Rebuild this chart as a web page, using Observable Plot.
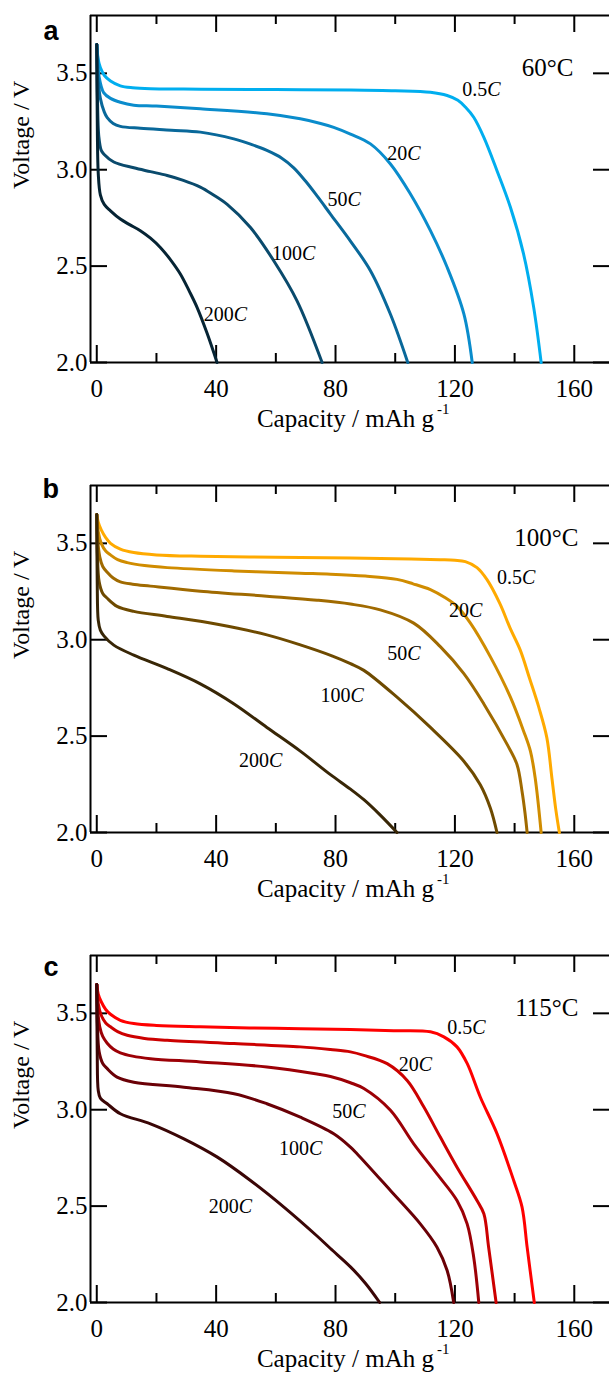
<!DOCTYPE html>
<html><head><meta charset="utf-8">
<script src="https://cdn.jsdelivr.net/npm/d3@7"></script>
<script src="https://cdn.jsdelivr.net/npm/@observablehq/plot@0.6"></script>
<style>
body{margin:0;background:#fff;}
#chart{width:609px;}
#chart svg{display:block;overflow:hidden;}
</style></head><body><div id="chart"></div>
<script>
// ---------- categories & ticks ----------
const RATES = ["0.5", "20", "50", "100", "200"];
const X_MAJOR = [0, 40, 80, 120, 160];
const X_MINOR = [20, 60, 100, 140];
const Y_TICKS = [2.0, 2.5, 3.0, 3.5];
const X_DOMAIN = [-2.1, 171.8];
const Y_DOMAIN = [2.0, 3.8];

// ---------- panel a : 60 °C  [capacity mAh/g, voltage V] ----------
const a_05C = [[0,3.65],[0.5,3.57],[1.2,3.53],[2.5,3.49],[4.6,3.46],[7.9,3.435],[12,3.425],[18,3.42],[35,3.418],[60,3.416],[85,3.414],[100,3.41],[111.8,3.402],[117.4,3.385],[121,3.36],[123.5,3.325],[126.3,3.272],[129.7,3.168],[134.1,2.995],[138.6,2.805],[143,2.563],[146.4,2.286],[148.9,2.0]];
const a_20C = [[0,3.65],[0.4,3.56],[0.8,3.48],[2.3,3.40],[4.6,3.37],[7.9,3.35],[12.4,3.335],[20,3.33],[34.7,3.316],[57,3.29],[68.2,3.264],[75,3.24],[79.4,3.22],[85,3.185],[91.7,3.134],[98.4,3.03],[105.1,2.874],[111.8,2.684],[117.4,2.494],[123,2.252],[125.8,2.0]];
const a_50C = [[0,3.65],[0.3,3.5],[1.2,3.37],[2.5,3.3],[3.5,3.27],[5.5,3.24],[7.9,3.225],[14.6,3.215],[25,3.205],[34.7,3.195],[45.9,3.16],[52,3.13],[57,3.10],[62,3.06],[66,3.01],[70,2.94],[74,2.86],[78.3,2.77],[85,2.63],[91.7,2.476],[98.4,2.25],[104.2,2.0]];
const a_100C = [[0,3.65],[0.2,3.4],[0.7,3.17],[1.5,3.10],[2.4,3.08],[5.7,3.04],[12.4,3.01],[18,2.99],[23.6,2.97],[29,2.945],[34.7,2.91],[39,2.87],[43.7,2.82],[51.5,2.70],[59.3,2.528],[67.1,2.32],[75.5,2.0]];
const a_200C = [[0,3.65],[0.2,3.2],[0.5,2.98],[1.2,2.87],[2.5,2.82],[4.6,2.787],[7.9,2.744],[11,2.715],[14.6,2.684],[18,2.645],[21.3,2.597],[24.6,2.535],[28,2.459],[31,2.37],[33.6,2.286],[37,2.15],[40.3,2.0]];

// ---------- panel b : 100 °C ----------
const b_05C = [[0,3.65],[0.5,3.61],[1.5,3.57],[3,3.53],[4.6,3.50],[7.9,3.47],[12.4,3.452],[20,3.44],[34.7,3.433],[60,3.428],[85,3.424],[100,3.42],[115,3.415],[120,3.412],[123.5,3.405],[127.4,3.374],[130.7,3.313],[135,3.19],[138.5,3.06],[141.9,2.946],[145,2.80],[148.1,2.65],[150.8,2.492],[152.5,2.283],[153.8,2.12],[155,2.0]];
const b_20C = [[0,3.65],[0.5,3.56],[1.5,3.50],[3,3.46],[4.6,3.44],[7,3.415],[10.2,3.40],[16,3.385],[23.6,3.374],[46,3.357],[68,3.345],[78.3,3.34],[90,3.33],[100.6,3.313],[106,3.29],[111.8,3.26],[116.5,3.22],[120.7,3.173],[125.2,3.086],[131.9,2.911],[138.6,2.702],[143,2.527],[145.3,2.422],[146.9,2.283],[148.9,2.0]];
const b_50C = [[0,3.65],[0.3,3.52],[1,3.43],[2,3.38],[3.5,3.35],[5.5,3.32],[7.9,3.30],[12,3.288],[18,3.278],[34.7,3.252],[57,3.226],[73.8,3.205],[85,3.185],[95,3.155],[106.2,3.086],[115.1,2.964],[123,2.824],[129.7,2.667],[137.5,2.457],[140.8,2.353],[142.5,2.213],[143.5,2.1],[144.2,2.0]];
const b_100C = [[0,3.65],[0.2,3.45],[0.8,3.3],[2,3.24],[3.5,3.215],[6.8,3.173],[12.4,3.147],[23.6,3.121],[40.4,3.08],[57,3.025],[68.2,2.973],[79,2.915],[85,2.876],[89.5,2.841],[100.6,2.702],[111.8,2.545],[123,2.37],[128.5,2.248],[131.9,2.126],[134.1,2.0]];
const b_200C = [[0,3.65],[0.15,3.3],[0.5,3.1],[1.2,3.05],[2.4,3.02],[5.7,2.972],[12.4,2.92],[23.6,2.85],[34.7,2.771],[46,2.667],[57,2.545],[68.2,2.422],[78.3,2.30],[85,2.225],[89.5,2.17],[95,2.09],[100.6,2.0]];

// ---------- panel c : 115 °C ----------
const c_05C = [[0,3.65],[0.5,3.60],[1.5,3.56],[3,3.52],[4.6,3.495],[7.9,3.464],[12.4,3.447],[20,3.437],[34.7,3.43],[60,3.422],[85,3.416],[100,3.41],[111.8,3.404],[116.3,3.378],[120.7,3.326],[124.1,3.24],[128.5,3.066],[134.1,2.876],[139.7,2.633],[142.5,2.495],[144.2,2.287],[146.6,2.0]];
const c_20C = [[0,3.65],[0.5,3.55],[1.5,3.49],[3,3.45],[4.6,3.43],[7,3.405],[10.2,3.386],[16,3.37],[23.6,3.36],[46,3.343],[68.2,3.326],[78.3,3.312],[85,3.30],[89.5,3.282],[97.3,3.239],[104,3.152],[109.6,3.014],[115.1,2.858],[120.7,2.702],[127.4,2.529],[129.7,2.46],[131.3,2.287],[133.8,2.0]];
const c_50C = [[0,3.65],[0.3,3.52],[1,3.43],[2,3.38],[3.5,3.345],[5.5,3.315],[7.9,3.295],[12,3.278],[18,3.265],[34.7,3.248],[57,3.222],[73.8,3.185],[78.3,3.172],[85,3.14],[89.5,3.11],[98.4,2.997],[106.2,2.823],[114,2.667],[120.7,2.529],[124.1,2.408],[126.3,2.235],[128,2.0]];
const c_100C = [[0,3.65],[0.2,3.45],[0.8,3.3],[2,3.24],[3.5,3.213],[6.8,3.169],[12.4,3.143],[29.2,3.117],[46,3.083],[57,3.031],[68.2,2.961],[79.4,2.875],[85,2.806],[87.2,2.772],[98.4,2.581],[108.4,2.408],[114,2.287],[117.4,2.166],[119.6,2.0]];
const c_200C = [[0,3.65],[0.15,3.3],[0.5,3.1],[1.2,3.06],[3.5,3.031],[7.9,2.979],[18,2.927],[29.2,2.849],[40.4,2.754],[51.5,2.633],[62.7,2.495],[73.8,2.345],[78.3,2.28],[85,2.185],[90,2.1],[94.8,2.0]];

// ---------- colours ----------
const A_COLORS = ["#00aeef", "#0a8ccc", "#09689a", "#0a4a6c", "#062434"];
const B_COLORS = ["#ffaa00", "#d08c00", "#a06a00", "#6e4a00", "#382606"];
const C_COLORS = ["#ff0000", "#cc0000", "#9c0006", "#6a0006", "#3a0606"];

// ---------- curve label anchors (capacity, voltage) ----------
const A_LABEL_CAP = [130.8, 104.0, 84.0, 68.8, 45.9];
const A_LABEL_V   = [3.416, 3.086, 2.845, 2.567, 2.248];
const B_LABEL_CAP = [142.5, 124.7, 104.0, 85.0, 57.7];
const B_LABEL_V   = [3.321, 3.150, 2.929, 2.710, 2.375];
const C_LABEL_CAP = [125.8, 107.9, 85.6, 71.1, 47.6];
const C_LABEL_V   = [3.425, 3.235, 2.991, 2.800, 2.497];

const PANELS = [
  {letter: "a", temp: "60°C",  colors: A_COLORS, series: [a_05C, a_20C, a_50C, a_100C, a_200C], lcap: A_LABEL_CAP, lv: A_LABEL_V, ldx: -47, ldy: 5,  tdx: -36},
  {letter: "b", temp: "100°C", colors: B_COLORS, series: [b_05C, b_20C, b_50C, b_100C, b_200C], lcap: B_LABEL_CAP, lv: B_LABEL_V, ldx: -48, ldy: -7, tdx: -31},
  {letter: "c", temp: "115°C", colors: C_COLORS, series: [c_05C, c_20C, c_50C, c_100C, c_200C], lcap: C_LABEL_CAP, lv: C_LABEL_V, ldx: -47, ldy: 1,  tdx: -31}
];

const SERIF = "'Liberation Serif', 'Times New Roman', serif";
const SANS = "'Liberation Sans', Arial, sans-serif";
const W = 609, H = 470, MT = 15, MB = 108, ML = 90, MR = 0;
const INNER_H = H - MT - MB, INNER_W = W - ML - MR;
const MAJ = 17, MIN = 9;

for (const p of PANELS) {
  const rows = [];
  p.series.forEach((s, i) => s.forEach(([cap, v]) => rows.push({rate: RATES[i], cap, v})));
  const labels = RATES.map((r, i) => ({rate: r, cap: p.lcap[i], v: p.lv[i]}));
  const chart = Plot.plot({
    width: W, height: H, marginTop: MT, marginBottom: MB, marginLeft: ML, marginRight: MR,
    style: {fontFamily: SERIF, fontSize: "25px", background: "white", color: "black", overflow: "hidden"},
    x: {domain: X_DOMAIN},
    y: {domain: Y_DOMAIN},
    color: {domain: RATES, range: p.colors},
    marks: [
      Plot.axisX({ticks: X_MAJOR, tickSize: 0, tickPadding: 17, tickFormat: d3.format("d"), label: null, fontSize: 25}),
      Plot.axisY({ticks: Y_TICKS, tickSize: 0, tickPadding: 3, tickFormat: d3.format(".1f"), label: null, fontSize: 25}),
      // inward ticks
      Plot.tickX(X_MAJOR, {x: d => d, insetTop: INNER_H - MAJ, stroke: "black", strokeWidth: 2}),
      Plot.tickX(X_MAJOR, {x: d => d, insetBottom: INNER_H - MAJ, stroke: "black", strokeWidth: 2}),
      Plot.tickX(X_MINOR, {x: d => d, insetTop: INNER_H - MIN, stroke: "black", strokeWidth: 2}),
      Plot.tickX(X_MINOR, {x: d => d, insetBottom: INNER_H - MIN, stroke: "black", strokeWidth: 2}),
      Plot.tickY(Y_TICKS, {y: d => d, insetRight: INNER_W - MAJ, stroke: "black", strokeWidth: 2}),
      Plot.tickY(Y_TICKS, {y: d => d, insetLeft: INNER_W - MAJ + 1, stroke: "black", strokeWidth: 2}),
      // frame (left, top, bottom)
      Plot.ruleX([X_DOMAIN[0]], {stroke: "black", strokeWidth: 2}),
      Plot.ruleY([Y_DOMAIN[0]], {stroke: "black", strokeWidth: 2}),
      Plot.ruleY([Y_DOMAIN[1]], {stroke: "black", strokeWidth: 2}),
      // curves
      Plot.line(rows, {x: "cap", y: "v", z: "rate", stroke: "rate", strokeWidth: 3, curve: "catmull-rom"}),
      // curve labels: number + italic C
      Plot.text(labels, {x: "cap", y: "v", text: d => d.rate, textAnchor: "end", fontSize: 20, fontFamily: SERIF}),
      Plot.text(labels, {x: "cap", y: "v", text: () => "C", textAnchor: "start", fontSize: 20, fontStyle: "italic", fontFamily: SERIF}),
      // temperature
      Plot.text([p.temp], {frameAnchor: "top-right", textAnchor: "end", dx: p.tdx, dy: 42.5, fontSize: 25, fontFamily: SERIF}),
      // panel letter
      Plot.text([p.letter], {frameAnchor: "top-left", textAnchor: "start", dx: p.ldx, dy: p.ldy, fontSize: 27, fontWeight: "bold", fontFamily: SANS}),
      // axis titles
      Plot.text(["Voltage / V"], {frameAnchor: "left", rotate: -90, dx: -69, fontSize: 24, fontFamily: SERIF}),
      Plot.text(["Capacity / mAh g"], {frameAnchor: "bottom", textAnchor: "end", dx: 84, dy: 64, fontSize: 25, fontFamily: SERIF}),
      Plot.text(["-1"], {frameAnchor: "bottom", textAnchor: "start", dx: 87, dy: 51.5, fontSize: 15, fontFamily: SERIF})
    ]
  });
  document.getElementById("chart").appendChild(chart);
}
</script>
</body></html>
